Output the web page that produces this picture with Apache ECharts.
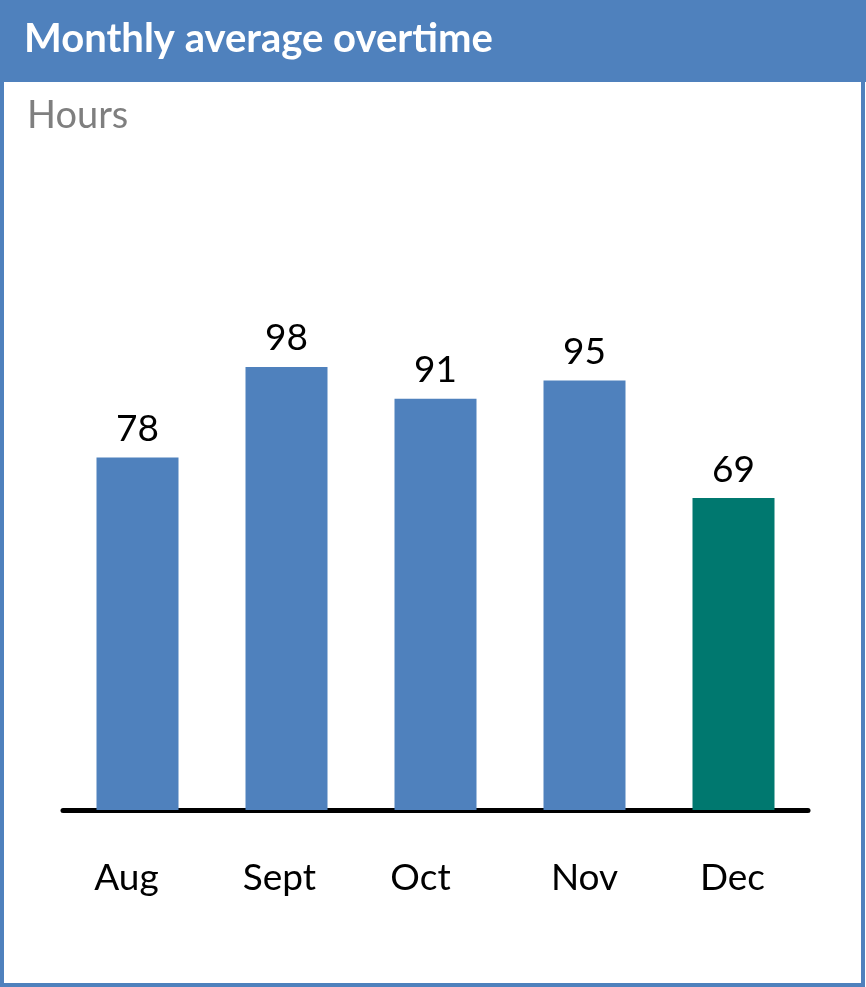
<!DOCTYPE html>
<html>
<head>
<meta charset="utf-8">
<script src="https://cdn.jsdelivr.net/npm/echarts@6/dist/echarts.min.js"></script>
<style>
  html, body { margin: 0; padding: 0; background: #fff; }
  #chart { width: 866px; height: 987px; }
</style>
</head>
<body>
<div id="chart"></div>
<script>
const months = ['Aug', 'Sept', 'Oct', 'Nov', 'Dec'];
const overtime = [78, 98, 91, 95, 69];
const barColors = ['#4F81BD', '#4F81BD', '#4F81BD', '#4F81BD', '#00786F'];

const blue = '#4F81BD';
const font = 'Lato';
// the month labels sit a little left of their bars in the original
const labelNudge = [11, 7, 15, 0, 1];

let chart = echarts.init(document.getElementById('chart'));

let option = {
  animation: false,
  title: [
    {
      text: 'Monthly average overtime',
      left: 19,
      top: 14,
      textStyle: { color: '#fff', fontSize: 40, fontWeight: 'bold', fontFamily: font }
    },
    {
      text: 'Hours',
      left: 22,
      top: 92,
      textStyle: { color: '#7F7F7F', fontSize: 38, fontWeight: 'normal', fontFamily: font }
    }
  ],
  graphic: [
    {
      type: 'rect', z: -1,
      shape: { x: 0, y: 0, width: 866, height: 82 },
      style: { fill: blue }
    },
    {
      type: 'rect', z: -1,
      shape: { x: 2, y: 2, width: 861, height: 983 },
      style: { fill: 'none', stroke: blue, lineWidth: 4 }
    }
  ],
  grid: {
    left: 63,
    right: 58,
    top: 132,
    bottom: 177
  },
  xAxis: {
    type: 'category',
    data: months.map((m, i) => ({
      value: m,
      textStyle: { padding: [0, labelNudge[i] * 2, 0, 0] }
    })),
    axisLine: { lineStyle: { color: '#000', width: 5 } },
    axisTick: { show: false },
    axisLabel: { color: '#000', fontSize: 37, fontFamily: font, margin: 50 }
  },
  yAxis: {
    type: 'value',
    min: 0,
    max: 150,
    show: false,
    splitLine: { show: false }
  },
  series: [
    {
      type: 'bar',
      barWidth: 82,
      data: overtime.map((v, i) => ({ value: v, itemStyle: { color: barColors[i] } })),
      label: {
        show: true,
        position: 'top',
        distance: 10,
        color: '#000',
        fontSize: 37,
        fontFamily: font
      }
    }
  ]
};

chart.setOption(option);
</script>
</body>
</html>
